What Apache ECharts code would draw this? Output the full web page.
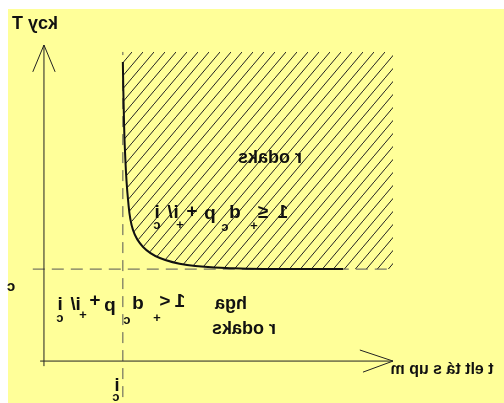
<!DOCTYPE html>
<html>
<head>
<meta charset="utf-8">
<script src="https://cdn.jsdelivr.net/npm/echarts@6/dist/echarts.min.js"></script>
<style>
  html, body { margin: 0; padding: 0; background: #fff; }
  #paper { position: absolute; left: 8px; top: 9px; width: 496px; height: 394px; background: #ffff99; }
  #chart { position: absolute; left: 0; top: 0; width: 504px; height: 403px; }
</style>
</head>
<body>
<div id="paper"></div>
<div id="chart"></div>
<script>
// critical values
const ic = 22.6
const yc = 29.1
const topY = 97.8
const rightX = 100

// boundary curve
const curveX = [22.6, 22.8, 23.2, 24.1, 25.5, 28.4, 33.2, 41.0, 54.2, 73.4, 85.7]
const curveY = [94.6, 82.6, 66.8, 50.9, 41.5, 36.1, 32.6, 30.4, 29.4, 29.1, 29.1]

// axes and arrow heads
const yAxisLine = [[0, -1.6], [0, 100]]
const xAxisLine = [[-1.1, 0], [100, 0]]
const yArrow = [[-3.2, 91.5], [0, 100], [3.2, 91.5]]
const xArrow = [[90.5, 3.5], [100, 0], [91.4, -3.5]]
const vDash = [[ic, -11.4], [ic, topY]]
const hDash = [[-3.2, yc], [rightX, yc]]

// texts (stored as source, shown mirrored)
const yTitle = 'kɔy T'
const xTitle = 't elt tá s up m'
const yTick = 'c'
const regionTop = 'r odaks'
const regionLow1 = 'hga'
const regionLow2 = 'r odaks'

const curve = curveX.map((x, i) => [x, curveY[i]])

// hatch tile
function hatchTile() {
  const w = 11, h = 13
  const c = document.createElement('canvas')
  c.width = w; c.height = h
  const g = c.getContext('2d')
  g.strokeStyle = '#222'
  g.lineWidth = 1
  g.beginPath()
  g.moveTo(-w, 2 * h); g.lineTo(2 * w, -h)
  g.stroke()
  return c
}
const tile = hatchTile()

function mtext(str, x, y, size, weight) {
  return {
    type: 'text', x: x, y: y, scaleX: -1, z: 100,
    style: {
      text: str, fill: '#111',
      font: (weight || 'bold') + ' ' + size + 'px "Liberation Sans", Arial, sans-serif',
      align: 'center', verticalAlign: 'middle',
      textAlign: 'center', textVerticalAlign: 'middle'
    }
  }
}

// formula, glyph by glyph: [char, dx, dy, size]
function formula(x0, y0, parts) {
  return parts.map(p => mtext(p[0], x0 + p[1], y0 + p[2], p[3]))
}
const upperParts = [
  ['i', 0, 0, 19], ['c', 0, 12, 13],
  ['/', 13, 0, 19], ['i', 19, 0, 19], ['+', 23, 12, 13],
  ['+', 35, -1, 19],
  ['p', 53, 1, 19], ['c', 68, 14, 13], ['d', 78, 0, 19], ['+', 97, 13, 13],
  ['≤', 106, 0, 19],
  ['1', 126, 0, 19]
]
const lowerParts = [
  ['i', 0, 0, 19], ['c', 0, 13, 13],
  ['/', 13, 0, 19], ['i', 18, 0, 19], ['+', 23, 10, 13],
  ['+', 35, -4, 19],
  ['p', 50, 1, 19], ['c', 67, 15, 13], ['d', 78, -1, 19], ['+', 97, 13, 13],
  ['<', 105, -3, 19],
  ['1', 120, -3, 19]
]

const chart = echarts.init(document.getElementById('chart'), null, { renderer: 'canvas' })

const option = {
  animation: false,
  grid: { left: 30, right: 111, top: 45, bottom: 4 },
  xAxis: { type: 'value', min: -4, max: 100, show: false },
  yAxis: { type: 'value', min: -12, max: 100, show: false },
  graphic: [
    mtext(yTitle, 35, 24, 18),
    mtext(xTitle, 442, 370, 16),
    mtext(yTick, 11, 287, 15),
    mtext(regionTop, 270, 158, 18),
    mtext(regionLow1, 231, 304, 18),
    mtext(regionLow2, 244, 329, 18),
    mtext('i', 117, 386, 18),
    mtext('c', 116, 397, 13)
  ].concat(formula(157, 213, upperParts), formula(60, 305, lowerParts)),
  series: [
    {
      type: 'custom',
      z: 1,
      silent: true,
      data: [[ic, topY]],
      renderItem: function (params, api) {
        const pts = [api.coord([ic, topY])]
        curve.forEach(p => pts.push(api.coord(p)))
        pts.push(api.coord([rightX, yc]))
        pts.push(api.coord([rightX, topY]))
        return {
          type: 'polygon',
          shape: { points: pts },
          style: { fill: { image: tile, repeat: 'repeat' }, stroke: null }
        }
      }
    },
    {
      type: 'line', data: vDash, symbol: 'none', z: 3,
      lineStyle: { color: '#555', width: 1, type: [11, 7] }
    },
    {
      type: 'line', data: hDash, symbol: 'none', z: 3,
      lineStyle: { color: '#555', width: 1, type: [12, 7] }
    },
    { type: 'line', data: yAxisLine, symbol: 'none', z: 4, lineStyle: { color: '#222', width: 1 } },
    { type: 'line', data: xAxisLine, symbol: 'none', z: 4, lineStyle: { color: '#222', width: 1 } },
    { type: 'line', data: yArrow, symbol: 'none', z: 4, lineStyle: { color: '#222', width: 1 } },
    { type: 'line', data: xArrow, symbol: 'none', z: 4, lineStyle: { color: '#222', width: 1 } },
    {
      type: 'line', data: curve, symbol: 'none', smooth: 0.4, z: 5,
      lineStyle: { color: '#111', width: 2 }
    }
  ]
}

chart.setOption(option)
window.addEventListener('resize', () => chart.resize())
</script>
</body>
</html>
